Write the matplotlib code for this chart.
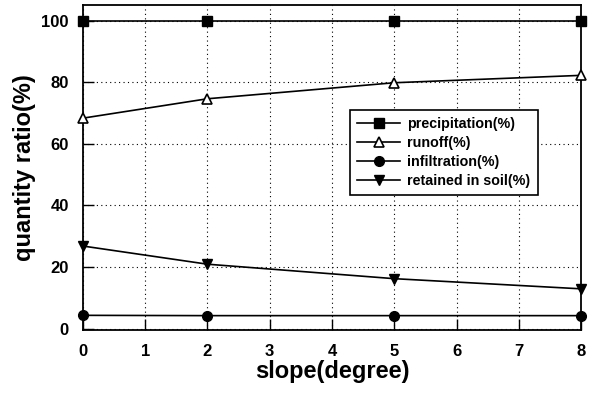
import matplotlib
matplotlib.use("Agg")
import matplotlib.pyplot as plt

plt.rcParams["font.family"] = ["Liberation Sans", "DejaVu Sans"]
plt.rcParams["font.weight"] = "bold"

# slope (degree) and measured ratios (%)
slope = [0, 2, 5, 8]
precipitation = [100, 100, 100, 100]
runoff = [68.3, 74.6, 79.8, 82.2]
infiltration = [4.3, 4.2, 4.2, 4.2]
retained = [26.8, 20.9, 16.2, 12.9]

fig = plt.figure(figsize=(5.96, 3.93), dpi=100)
ax = fig.add_axes([0.139, 0.160, 0.836, 0.827])

kw = dict(color="black", lw=1.2, ms=7, clip_on=False, zorder=3)
ax.plot(slope, precipitation, marker="s", label="precipitation(%)", **kw)
ax.plot(slope, runoff, marker="^", mfc="white", mew=1.2, label="runoff(%)", **kw)
ax.plot(slope, infiltration, marker="o", label="infiltration(%)", **kw)
ax.plot(slope, retained, marker="v", label="retained in soil(%)", **kw)

ax.set_xlim(0, 8)
ax.set_ylim(-0.5, 105)
ax.set_xticks(range(0, 9))
ax.set_yticks([0, 20, 40, 60, 80, 100])
ax.grid(True, ls=(0, (1, 3)), color="black", lw=0.8)
ax.tick_params(direction="in", length=8, width=1, labelsize=12, pad=10)
for lab in ax.get_xticklabels() + ax.get_yticklabels():
    lab.set_fontweight("bold")
for s in ax.spines.values():
    s.set_linewidth(1.3)

ax.set_xlabel("slope(degree)", fontsize=17, fontweight="bold", labelpad=1)
ax.set_ylabel("quantity ratio(%)", fontsize=17, fontweight="bold", labelpad=4)

leg = ax.legend(loc="upper left", bbox_to_anchor=(0.522, 0.70), fontsize=10.3,
                frameon=True, fancybox=False, edgecolor="black", framealpha=1,
                handlelength=3, handletextpad=0.5, borderpad=0.5, labelspacing=0.35)
leg.get_frame().set_linewidth(1.2)
leg.set_zorder(5)
for t in leg.get_texts():
    t.set_fontweight("bold")

fig.savefig("out.png", dpi=100)
